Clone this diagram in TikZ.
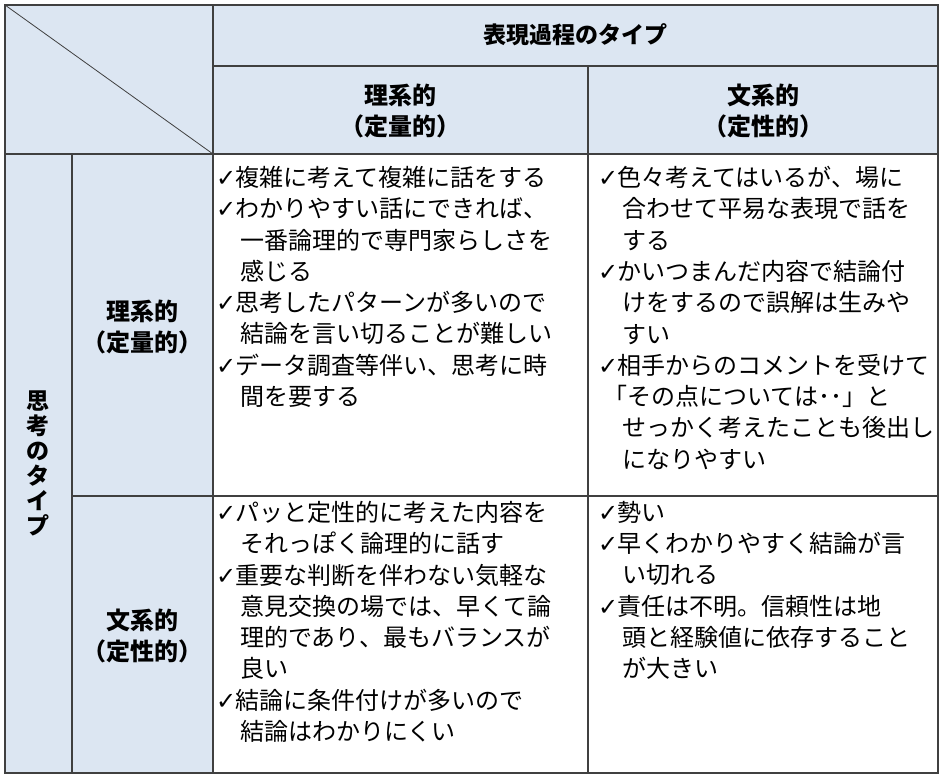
\documentclass[tikz,border=0pt]{standalone}
\usepackage{fontspec}
\setmainfont{Noto Sans CJK JP}
\newfontfamily\ckfont{DejaVu Sans}
\definecolor{hdrblue}{HTML}{DCE6F2}
\definecolor{gridgray}{HTML}{404040}
\newcommand{\ck}{\makebox[20pt][l]{\hspace*{1pt}{\ckfont\fontsize{24}{24}\selectfont ✓}}}
\newcommand{\ind}{\hspace*{25pt}}
\tikzset{
  gridline/.style={draw=gridgray, line width=1.6pt},
  diagline/.style={draw=gridgray, line width=0.8pt},
  bodytext/.style={anchor=north west, inner sep=0pt, align=left, font=\fontsize{24}{31.3}\selectfont},
  headtext/.style={inner sep=0pt, align=center, font=\fontsize{24}{31}\selectfont\bfseries},
  maintext/.style={inner sep=0pt, align=center, font=\fontsize{23}{31}\selectfont\bfseries},
  verttext/.style={inner sep=0pt, align=center, font=\fontsize{23}{25}\selectfont\bfseries}
}
\begin{document}
\begin{tikzpicture}[x=1pt,y=-1pt]
\useasboundingbox (0,0) rectangle (946,781);
\fill[white] (0,0) rectangle (946,781);
% fills
\fill[hdrblue] (5,5) rectangle (938,154);
\fill[hdrblue] (5,154) rectangle (213,773);
% grid
\draw[diagline] (5,5) -- (213,154);
\draw[gridline] (213,5) -- (213,773);
\draw[gridline] (213,66) -- (938,66);
\draw[gridline] (588,66) -- (588,773);
\draw[gridline] (5,154) -- (938,154);
\draw[gridline] (72,154) -- (72,773);
\draw[gridline] (72,496) -- (938,496);
\draw[gridline] (5,5) rectangle (938,773);
% headers
\node[maintext] (hmain) at (575.5,35) {表現過程のタイプ};
\node[headtext] (hcolA) at (400.5,111) {理系的\\（定量的）};
\node[headtext] (hcolB) at (763,111) {文系的\\（定性的）};
\node[headtext] (hrowA) at (142.5,327) {理系的\\（定量的）};
\node[headtext] (hrowB) at (142.5,636) {文系的\\（定性的）};
\node[verttext] (hvert) at (38.5,463) {思\\考\\の\\タ\\イ\\プ};
% body
\node[bodytext] (cA) at (215,166) {\rule{0pt}{20pt}\ck 複雑に考えて複雑に話をする\\%
\ck わかりやすい話にできれば、\\%
\ind 一番論理的で専門家らしさを\\%
\ind 感じる\\%
\ck 思考したパターンが多いので\\%
\ind 結論を言い切ることが難しい\\%
\ck データ調査等伴い、思考に時\\%
\ind 間を要する};
\node[bodytext] (cB) at (597,166) {\rule{0pt}{20pt}\ck 色々考えてはいるが、場に\\%
\ind 合わせて平易な表現で話を\\%
\ind する\\%
\ck かいつまんだ内容で結論付\\%
\ind けをするので誤解は生みや\\%
\ind すい\\%
\ck 相手からのコメントを受けて\\%
\hspace*{6pt}「その点については･･」と\\%
\ind せっかく考えたことも後出し\\%
\ind になりやすい};
\node[bodytext] (cC) at (215,501) {\rule{0pt}{20pt}\ck パッと定性的に考えた内容を\\%
\ind それっぽく論理的に話す\\%
\ck 重要な判断を伴わない気軽な\\%
\ind 意見交換の場では、早くて論\\%
\ind 理的であり、最もバランスが\\%
\ind 良い\\%
\ck 結論に条件付けが多いので\\%
\ind 結論はわかりにくい};
\node[bodytext] (cD) at (597,501) {\rule{0pt}{20pt}\ck 勢い\\%
\ck 早くわかりやすく結論が言\\%
\ind い切れる\\%
\ck 責任は不明。信頼性は地\\%
\ind 頭と経験値に依存すること\\%
\ind が大きい};
\end{tikzpicture}
\end{document}
